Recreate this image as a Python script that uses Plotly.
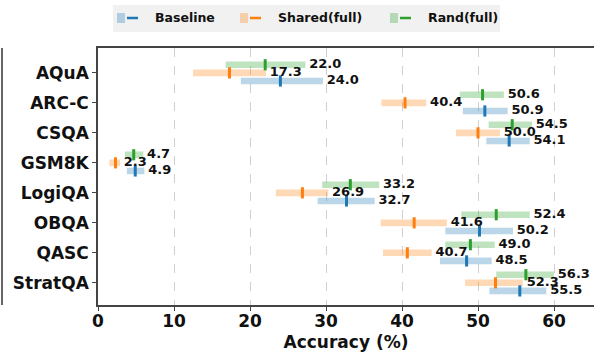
import plotly.graph_objects as go

categories = ["AQuA", "ARC-C", "CSQA", "GSM8K", "LogiQA", "OBQA", "QASC", "StratQA"]

# Baseline: min, max, mean
base_lo = [18.8, 48.0, 51.1, 3.8, 28.9, 45.7, 45.0, 51.5]
base_hi = [29.6, 53.9, 56.8, 6.1, 36.4, 54.6, 51.8, 59.0]
base_mean = [24.0, 50.9, 54.1, 4.9, 32.7, 50.2, 48.5, 55.5]

# Shared(full)
shared_lo = [12.5, 37.3, 47.1, 1.5, 23.4, 37.2, 37.5, 48.3]
shared_hi = [22.1, 43.2, 52.9, 2.9, 30.3, 45.9, 43.9, 55.9]
shared_mean = [17.3, 40.4, 50.0, 2.3, 26.9, 41.6, 40.7, 52.3]

# Rand(full)
rand_lo = [16.8, 47.6, 51.4, 3.55, 29.5, 47.8, 45.7, 52.4]
rand_hi = [27.3, 53.4, 57.1, 5.96, 37.0, 56.8, 52.2, 60.0]
rand_mean = [22.0, 50.6, 54.5, 4.7, 33.2, 52.4, 49.0, 56.3]

x_ticks = [0, 10, 20, 30, 40, 50, 60]

series = [
    ("Rand(full)", rand_lo, rand_hi, rand_mean, "rgba(44,160,44,0.3)", "#2ca02c", -0.27),
    ("Shared(full)", shared_lo, shared_hi, shared_mean, "rgba(255,127,14,0.3)", "#ff7f0e", 0.0),
    ("Baseline", base_lo, base_hi, base_mean, "rgba(31,119,180,0.3)", "#1f77b4", 0.27),
]

FONT = "DejaVu Sans"
fig = go.Figure()
idx = list(range(len(categories)))
for name, lo, hi, mean, light, dark, off in series:
    ys = [i + off for i in idx]
    fig.add_trace(go.Bar(
        y=ys, x=[h - l for l, h in zip(lo, hi)], base=lo, orientation="h",
        width=0.22, marker=dict(color=light, line=dict(width=0)), showlegend=False,
        hoverinfo="skip"))
for name, lo, hi, mean, light, dark, off in series:
    ys = [i + off for i in idx]
    fig.add_trace(go.Scatter(
        y=ys, x=mean, mode="markers",
        marker=dict(symbol="line-ns", size=8, line=dict(width=3, color=dark), color=dark),
        showlegend=False))
for name, lo, hi, mean, light, dark, off in series:
    ys = [i + off for i in idx]
    fig.add_trace(go.Scatter(
        y=ys, x=[h + 0.5 for h in hi], mode="text", text=[f"{m:.1f}" for m in mean],
        textposition="middle right",
        textfont=dict(family=FONT, size=13, color="#111", weight="bold"),
        showlegend=False))

# manual legend (pixel-based in paper coords)
W, H = 594, 352
L, R, T, B = 98, 0, 48, 47
pw, ph = W - L - R, H - T - B
def px(x):
    return (x - L) / pw
def py(y):
    return 1 - (y - T) / ph

shapes = []
annotations = []
shapes.append(dict(type="rect", xref="paper", yref="paper", x0=px(113), x1=px(500), y0=py(32), y1=py(5),
                   fillcolor="#f1f1f1", line=dict(width=0), layer="above"))
leg = [("Baseline", "rgba(31,119,180,0.3)", "#1f77b4", 117),
       ("Shared(full)", "rgba(255,127,14,0.3)", "#ff7f0e", 240),
       ("Rand(full)", "rgba(44,160,44,0.3)", "#2ca02c", 390)]
for name, light, dark, x0 in leg:
    shapes.append(dict(type="rect", xref="paper", yref="paper", x0=px(x0), x1=px(x0 + 8), y0=py(23), y1=py(13),
                       fillcolor=light, line=dict(width=0), layer="above"))
    shapes.append(dict(type="line", xref="paper", yref="paper", x0=px(x0 + 10), x1=px(x0 + 21), y0=py(18), y1=py(18),
                       line=dict(color=dark, width=2.5), layer="above"))
    annotations.append(dict(xref="paper", yref="paper", x=px(x0 + 36), y=py(18), text=f"<b>{name}</b>",
                            showarrow=False, xanchor="left", yanchor="middle",
                            font=dict(family=FONT, size=12.5, color="#111")))
# partial frame of neighbouring panel at the far left
shapes.append(dict(type="line", xref="paper", yref="paper", x0=px(2), x1=px(2), y0=py(305), y1=py(48),
                   line=dict(color="#333", width=1.5)))

fig.update_layout(
    width=W, height=H, margin=dict(l=L, r=R, t=T, b=B),
    plot_bgcolor="white", paper_bgcolor="white",
    barmode="overlay", showlegend=False,
    shapes=shapes, annotations=annotations,
    font=dict(family=FONT, color="#111"),
)
fig.update_xaxes(
    range=[0, (W - L - R) / 7.6], tickvals=x_ticks, ticktext=[f"<b>{t}</b>" for t in x_ticks],
    tickfont=dict(size=17, family=FONT, color="#111"),
    showgrid=True, gridcolor="#d0d0d0", griddash="dash", gridwidth=1,
    showline=True, linecolor="#444", linewidth=1.6, mirror=True,
    ticks="outside", ticklen=4, tickcolor="#444", ticklabelstandoff=-4,
    title=dict(text="<b>Accuracy (%)</b>", font=dict(size=17, family=FONT, color="#111"), standoff=8),
    zeroline=False,
)
fig.update_yaxes(
    range=[7.74, -0.83], tickvals=idx, ticktext=[f"<b>{c}</b>" for c in categories],
    tickfont=dict(size=17, family=FONT, color="#111"),
    showgrid=False, showline=True, linecolor="#444", linewidth=1.6,
    ticks="outside", ticklen=4, tickcolor="#444", zeroline=False,
)
fig.write_html("out.html")
